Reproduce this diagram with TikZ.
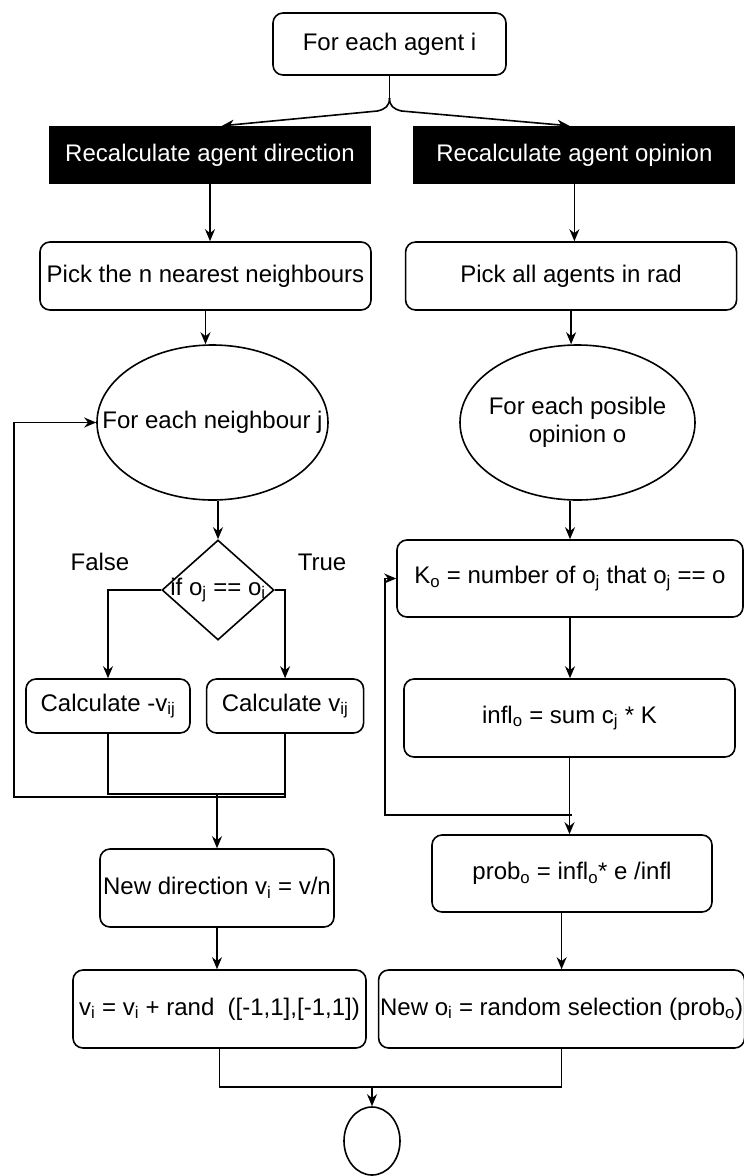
\documentclass[tikz,border=0pt]{standalone}
\usepackage{fontspec}
\setmainfont{Liberation Sans}[Ligatures=NoCommon]
\usetikzlibrary{positioning,calc,arrows.meta,shapes.geometric}

\begin{document}
\begin{tikzpicture}[x=1pt,y=1pt,font=\fontsize{24}{28}\selectfont,
      dims/.style 2 args={minimum width=#1pt,minimum height=#2pt},
      proc/.style={draw,line width=1.6pt,rounded corners=10pt,align=center,inner sep=1pt},
      head/.style={fill=black,text=white,align=center,inner sep=1pt},
      loopnode/.style={draw,ellipse,line width=1.6pt,align=center,inner sep=0pt},
      test/.style={draw,diamond,line width=1.6pt,inner sep=0pt},
      arr/.style={-{Stealth[length=12pt,width=10pt]},line width=1.6pt},
      wire/.style={line width=1.6pt}]
    \useasboundingbox (0,0) rectangle (744,-1176);
    % top
    \node[proc,dims={233}{62}] (agent) at (389.5,-44) {For each agent i};
    \node[head,dims={322}{58}] (dir) at (210,-155) {Recalculate agent direction};
    \node[head,dims={322}{58},right=42pt of dir] (opin) {Recalculate agent opinion};
    \coordinate (split) at (389.5,-98);
    \draw[wire] (agent.south) -- (split);
    \draw[arr] (split) .. controls +(0,-8) and +(8,2) .. ++(-12,-13) -- ([xshift=12pt]dir.north);
    \draw[arr] (split) .. controls +(0,-8) and +(-8,2) .. ++(12,-13) -- ([xshift=-5pt]opin.north);
    % direction branch
    \node[proc,dims={331}{68}] (pickn) at (205.5,-276) {Pick the n nearest neighbours};
    \node[loopnode,dims={231}{155}] (eachn) at (212.5,-422.5) {\makebox[0pt]{For each neighbour j}};
    \node[test,dims={112}{100}] (ifd) at (218,-590) {\makebox[0pt]{if o\textsubscript{j} == o\textsubscript{i}}};
    \node (lfalse) at (100,-562) {False};
    \node (ltrue) at (322,-562) {True};
    \node[proc,dims={164}{54}] (calcneg) at (108,-706) {Calculate -v\textsubscript{ij}};
    \node[proc,dims={157}{54},right=15pt of calcneg] (calcpos) {Calculate v\textsubscript{ij}};
    \node[proc,dims={234}{78}] (newdir) at (217,-888) {New direction v\textsubscript{i} = v/n};
    \node[proc,dims={293}{78}] (vi) at (219.5,-1009) {v\textsubscript{i} = v\textsubscript{i} + rand \ ([-1,1],[-1,1])};
    \draw[arr] (dir) -- (dir.south |- pickn.north);
    \draw[arr] (pickn.south) -- (pickn.south |- eachn.north);
    \draw[arr] (ifd.north |- eachn.south) -- (ifd.north);
    \draw[arr] (ifd.west) -| (calcneg.north);
    \draw[arr] (ifd.east) -| (calcpos.north);
    \coordinate (jn) at (217,-794);
    \coordinate (lp) at (14,-797);
    \draw[wire] (calcneg.south) |- (jn);
    \draw[arr] (calcpos.south) |- (jn) -- (newdir.north);
    \draw[arr] (calcpos.south) |- (lp) |- (eachn.west);
    \draw[arr] (newdir.south) -- (newdir.south |- vi.north);
    % opinion branch
    \node[proc,dims={331}{68},right=33pt of pickn] (pickall) {Pick all agents in rad};
    \node[loopnode,dims={235}{155}] (eacho) at (577.5,-422.5) {\makebox[0pt]{\begin{tabular}{@{}c@{}}For each posible\\opinion o\end{tabular}}};
    \node[proc,dims={346}{77}] (kcount) at (570,-578.5) {K\textsubscript{o} = number of o\textsubscript{j} that o\textsubscript{j} == o};
    \node[proc,dims={331}{78}] (infl) at (569.5,-718) {infl\textsubscript{o} = sum c\textsubscript{j} * K};
    \node[proc,dims={280}{77}] (prob) at (572,-873.5) {prob\textsubscript{o} = infl\textsubscript{o}* e /infl};
    \node[proc,dims={366}{78},right=11pt of vi] (newo) {New o\textsubscript{i} = random selection (prob\textsubscript{o})};
    \draw[arr] (opin) -- (opin.south |- pickall.north);
    \draw[arr] (pickall.south) -- (pickall.south |- eacho.north);
    \draw[arr] (kcount.north |- eacho.south) -- (kcount.north);
    \draw[arr] (kcount.south) -- (kcount.south |- infl.north);
    \draw[arr] (infl.south) -- (infl.south |- prob.north);
    \coordinate (rj) at (572,-815);
    \coordinate (rl) at (385,-815);
    \draw[arr] (rj) -- (rl) |- (kcount.west);
    \draw[arr] (newo.north |- prob.south) -- (newo.north);
    % end
    \node[draw,ellipse,line width=1.6pt,dims={56}{68}] (endc) at (372,-1141) {};
    \coordinate (ej) at (372,-1087);
    \draw[wire] (vi.south) |- (ej);
    \draw[wire] (newo.south) |- (ej);
    \draw[arr] (ej) -- (endc.north);
  \end{tikzpicture}
\end{document}
